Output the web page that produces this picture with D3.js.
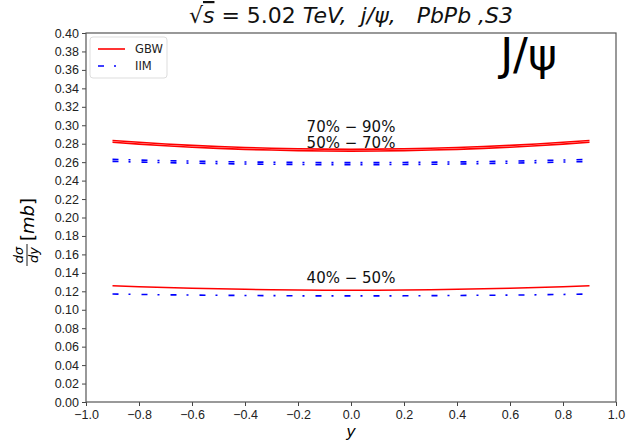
<!DOCTYPE html>
<html>
<head>
<meta charset="utf-8">
<script src="https://cdn.jsdelivr.net/npm/d3@7"></script>
<style>
  body { margin: 0; background: #fff; }
  svg { font-family: "DejaVu Sans", sans-serif; }
</style>
</head>
<body>
<svg id="chart" width="629" height="441"></svg>
<script>
// rapidity points
var rapidity = [-0.9, -0.8, -0.7, -0.6, -0.5, -0.4, -0.3, -0.2, -0.1, 0, 0.1, 0.2, 0.3, 0.4, 0.5, 0.6, 0.7, 0.8, 0.9];

// GBW model, per centrality class
var gbw_70_90 = [0.2835, 0.2815, 0.2797, 0.2782, 0.2769, 0.2759, 0.2751, 0.2745, 0.2741, 0.2740, 0.2741, 0.2745, 0.2751, 0.2759, 0.2769, 0.2782, 0.2797, 0.2815, 0.2835];
var gbw_50_70 = [0.2815, 0.2795, 0.2777, 0.2762, 0.2749, 0.2739, 0.2731, 0.2725, 0.2721, 0.2720, 0.2721, 0.2725, 0.2731, 0.2739, 0.2749, 0.2762, 0.2777, 0.2795, 0.2815];
var gbw_40_50 = [0.1260, 0.1250, 0.1241, 0.1233, 0.1227, 0.1222, 0.1217, 0.1214, 0.1212, 0.1212, 0.1212, 0.1214, 0.1217, 0.1222, 0.1227, 0.1233, 0.1241, 0.1250, 0.1260];

// IIM model
var iim_70_90 = [0.2630, 0.2623, 0.2616, 0.2611, 0.2606, 0.2602, 0.2599, 0.2597, 0.2595, 0.2595, 0.2595, 0.2597, 0.2599, 0.2602, 0.2606, 0.2611, 0.2616, 0.2623, 0.2630];
var iim_50_70 = [0.2608, 0.2601, 0.2594, 0.2589, 0.2584, 0.2580, 0.2577, 0.2575, 0.2573, 0.2573, 0.2573, 0.2575, 0.2577, 0.2580, 0.2584, 0.2589, 0.2594, 0.2601, 0.2608];
var iim_40_50 = [0.1170, 0.1166, 0.1162, 0.1159, 0.1157, 0.1155, 0.1153, 0.1151, 0.1150, 0.1150, 0.1150, 0.1151, 0.1153, 0.1155, 0.1157, 0.1159, 0.1162, 0.1166, 0.1170];

var xTicks = [-1.0, -0.8, -0.6, -0.4, -0.2, 0.0, 0.2, 0.4, 0.6, 0.8, 1.0];
var yTicks = d3.range(0, 21).map(function(i) { return i * 0.02; });

var labels = [
  {text: "70% \u2212 90%", x: 0.0, y: 0.293},
  {text: "50% \u2212 70%", x: 0.0, y: 0.2755},
  {text: "40% \u2212 50%", x: 0.0, y: 0.1285}
];

var svg = d3.select("#chart"),
    margin = {top: 33, right: 13, bottom: 39, left: 86},
    width = 629 - margin.left - margin.right,
    height = 441 - margin.top - margin.bottom;

var x = d3.scaleLinear().domain([-1, 1]).range([0, width]),
    y = d3.scaleLinear().domain([0, 0.4]).range([height, 0]);

var g = svg.append("g")
    .attr("transform", "translate(" + margin.left + "," + margin.top + ")");

var line = d3.line()
    .x(function(d, i) { return x(rapidity[i]); })
    .y(function(d) { return y(d); });

// IIM curves (blue dash-dot)
[iim_70_90, iim_50_70, iim_40_50].forEach(function(s) {
  g.append("path")
      .attr("d", line(s))
      .attr("fill", "none")
      .attr("stroke", "#0000ff")
      .attr("stroke-width", 1.6)
      .attr("stroke-dasharray", "6,10,2,11");
});

// GBW curves (red solid)
[gbw_70_90, gbw_50_70, gbw_40_50].forEach(function(s) {
  g.append("path")
      .attr("d", line(s))
      .attr("fill", "none")
      .attr("stroke", "#ff0000")
      .attr("stroke-width", 1.6);
});

labels.forEach(function(l) {
  g.append("text")
      .attr("x", x(l.x))
      .attr("y", y(l.y))
      .attr("text-anchor", "middle")
      .style("font-size", "15px")
      .attr("fill", "#111")
      .text(l.text);
});

// axes
var xAxis = g.append("g")
    .attr("transform", "translate(0," + height + ")")
    .call(d3.axisBottom(x).tickValues(xTicks).tickSize(4).tickPadding(4)
      .tickFormat(function(d) { return d3.format(".1f")(d).replace("-", "\u2212"); }));

var yAxis = g.append("g")
    .call(d3.axisLeft(y).tickValues(yTicks).tickSize(4).tickPadding(3)
      .tickFormat(d3.format(".2f")));

[xAxis, yAxis].forEach(function(a) {
  a.selectAll("text").style("font-size", "12.5px").attr("fill", "#222");
  a.selectAll("line").attr("stroke", "#444");
  a.select(".domain").attr("stroke", "none");
});

// frame
g.append("rect")
    .attr("width", width)
    .attr("height", height)
    .attr("fill", "none")
    .attr("stroke", "#555")
    .attr("stroke-width", 1.2);

// legend
var lg = g.append("g").attr("transform", "translate(4,4)");
lg.append("rect")
    .attr("width", 77)
    .attr("height", 41)
    .attr("rx", 3)
    .attr("fill", "#fff")
    .attr("stroke", "#ddd");
lg.append("line")
    .attr("x1", 8).attr("x2", 35).attr("y1", 12).attr("y2", 12)
    .attr("stroke", "#ff0000").attr("stroke-width", 1.6);
lg.append("line")
    .attr("x1", 8).attr("x2", 35).attr("y1", 29).attr("y2", 29)
    .attr("stroke", "#0000ff").attr("stroke-width", 1.6)
    .attr("stroke-dasharray", "6,10,2,11");
lg.append("text").attr("x", 45).attr("y", 16).style("font-size", "11.5px").attr("fill", "#222").text("GBW");
lg.append("text").attr("x", 45).attr("y", 33).style("font-size", "11.5px").attr("fill", "#222").text("IIM");

// big J/psi label
g.append("text")
    .attr("x", x(0.67))
    .attr("y", y(0.36))
    .attr("text-anchor", "middle")
    .style("font-size", "44px")
    .attr("fill", "#000")
    .text("J/\u03c8");

// title
var title = svg.append("text")
    .attr("x", 351)
    .attr("y", 23)
    .attr("text-anchor", "middle")
    .attr("xml:space", "preserve")
    .style("white-space", "pre")
    .style("font-size", "22px")
    .attr("fill", "#111");
title.append("tspan").text("\u221a");
title.append("tspan").attr("font-style", "italic").style("text-decoration", "overline").text("s");
title.append("tspan").text(" = 5.02 ");
title.append("tspan").attr("font-style", "italic").text("TeV,  j/\u03c8,   PbPb ,S3");

// x label
svg.append("text")
    .attr("x", margin.left + x(0))
    .attr("y", 437)
    .attr("text-anchor", "middle")
    .style("font-size", "16px")
    .attr("font-style", "italic")
    .text("y");

// y label: fraction d sigma / dy and [mb]
var yl = svg.append("g")
    .attr("transform", "translate(27,217) rotate(-90)");
yl.append("text").attr("x", -38).attr("y", -4).attr("text-anchor", "middle")
    .style("font-size", "13px").attr("font-style", "italic").text("d\u03c3");
yl.append("line").attr("x1", -49).attr("x2", -27).attr("y1", 0).attr("y2", 0)
    .attr("stroke", "#000").attr("stroke-width", 0.9);
yl.append("text").attr("x", -38).attr("y", 11).attr("text-anchor", "middle")
    .style("font-size", "13px").attr("font-style", "italic").text("dy");
yl.append("text").attr("x", -24).attr("y", 7).attr("text-anchor", "start")
    .style("font-size", "18px").text("[")
  .append("tspan").attr("font-style", "italic").text("mb")
  .select(function() { return this.parentNode; })
  .append("tspan").text("]");
</script>
</body>
</html>
